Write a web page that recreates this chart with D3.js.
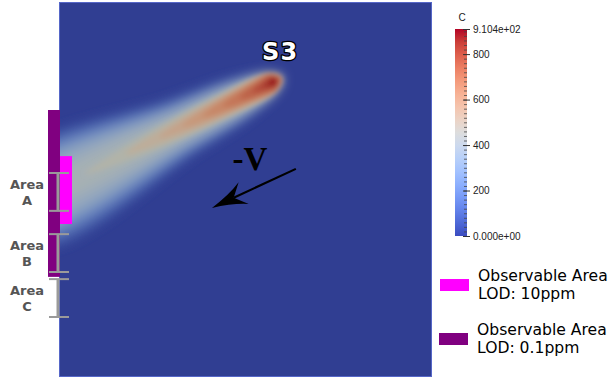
<!DOCTYPE html>
<html>
<head>
<meta charset="utf-8">
<script src="https://cdn.jsdelivr.net/npm/d3@7"></script>
<style>
  body { margin: 0; background: #fff; }
  svg { display: block; }
</style>
</head>
<body>
<svg id="chart"></svg>
<script>
// ParaView "cool to warm" colour map
const coolWarmPos = [0, 0.0625, 0.125, 0.1875, 0.25, 0.3125, 0.375, 0.4375, 0.5,
  0.5625, 0.625, 0.6875, 0.75, 0.8125, 0.875, 0.9375, 1];
const coolWarmColors = ["#3b4cc0", "#4d68d7", "#6282ea", "#779af7", "#8db0fe", "#a3c2ff",
  "#b8d0f9", "#ccd9ee", "#dddddd", "#ecd3c5", "#f5c4ad", "#f7b194", "#f49a7b",
  "#ec7f63", "#de604d", "#cb3e38", "#b40426"];
const cMax = 910.4;
const colorbarTicks = [0, 200, 400, 600, 800, 910.4];

// plume (domain units 0..100 across the panel)
const plumeSource = [57.4, 21.3];
const plumeTail = [0, 49.3];
const plumeLevels = [50, 100, 150, 200, 250, 300, 350, 400, 450, 500, 550, 600, 650, 700, 750, 800, 850, 900];
const plumeReach = [75, 75, 75, 75, 75, 75, 75, 75, 56, 44, 34, 27, 21, 15, 10, 6, 3, 1.2];
const plumeHalfSource = [3.0, 2.9, 2.8, 2.75, 2.7, 2.65, 2.6, 2.55, 2.6, 2.6, 2.55, 2.5, 2.4, 2.25, 2.0, 1.75, 1.3, 0.8];
const plumeHalfMid = [8.2, 7.4, 6.7, 6.1, 5.5, 4.9, 4.2, 3.5, 3.2, 2.9, 2.6, 2.4, 2.2, 2.0, 1.7, 1.35, 1.0, 0.5];
const plumeHalfEnd = [12.5, 11.0, 9.8, 8.7, 7.6, 6.5, 5.0, 2.0, 0.1, 0.1, 0.1, 0.1, 0.1, 0.1, 0.1, 0.1, 0.1, 0.1];

// observation strips (y in domain units)
const stripLod01 = [28.8, 73.3];
const stripLod10 = [41.1, 59.2];
const areaNames = ["A", "B", "C"];
const areaStart = [45.6, 61.9, 73.9];
const areaEnd = [55.7, 72.0, 84.0];

const velocityFrom = [63.5, 44.5];
const velocityTo = [41.0, 54.9];

const legendLabels = ["LOD: 10ppm", "LOD: 0.1ppm"];
const legendColors = ["#ff00ff", "#800080"];

const W = 612, H = 379;
const svg = d3.select("#chart").attr("width", W).attr("height", H);

const x = d3.scaleLinear().domain([0, 100]).range([59, 432]);
const y = d3.scaleLinear().domain([0, 100]).range([2, 377]);

const cmap = d3.scaleLinear()
  .domain(coolWarmPos.map(p => p * cMax))
  .range(coolWarmColors)
  .interpolate(d3.interpolateRgb)
  .clamp(true);
// the rendered view is shaded a bit darker than the colour bar
const shade = c => {
  const r = d3.rgb(c);
  return d3.rgb(r.r * 0.81, r.g * 0.81, r.b * 0.76).formatHex();
};

const defs = svg.append("defs");
defs.append("clipPath").attr("id", "panelClip")
  .append("rect")
  .attr("x", x(0)).attr("y", y(0))
  .attr("width", x(100) - x(0)).attr("height", y(100) - y(0));
[["softWide", 5.5], ["softNarrow", 2.4]].forEach(([id, sd]) => {
  defs.append("filter").attr("id", id)
    .attr("x", "-20%").attr("y", "-20%").attr("width", "140%").attr("height", "140%")
    .append("feGaussianBlur").attr("stdDeviation", sd);
});

// panel
svg.append("rect")
  .attr("x", x(0)).attr("y", y(0))
  .attr("width", x(100) - x(0)).attr("height", y(100) - y(0))
  .attr("fill", shade(cmap(0)));

// plume bands
const sx = x(plumeSource[0]), sy = y(plumeSource[1]);
const tx = x(plumeTail[0]), ty = y(plumeTail[1]);
const len = Math.hypot(tx - sx, ty - sy);
const ux = (tx - sx) / len, uy = (ty - sy) / len;
const nx = -uy, ny = ux;
const k = x(1) - x(0);
const toPx = ([s, h]) => [sx + (ux * s + nx * h) * k, sy + (uy * s + ny * h) * k];

function bandPoints(i) {
  const r = plumeReach[i], h0 = plumeHalfSource[i], hm = plumeHalfMid[i], h1 = plumeHalfEnd[i];
  const side = r > 60
    ? [[0, h0], [r * 0.12, (h0 + hm) / 2 + 0.3], [r * 0.35, hm], [r, h1]]
    : [[0, h0], [r * 0.35, hm], [r * 0.8, hm * 0.55], [r, h1]];
  const top = side.map(([s, h]) => [s, h]);
  const bottom = side.slice().reverse().map(([s, h]) => [s, -h]);
  return [[-h0 * 1.05, 0], ...top, ...bottom].map(toPx);
}

const bandLine = d3.line().curve(d3.curveCatmullRomClosed.alpha(0.5));
const plumeG = svg.append("g").attr("clip-path", "url(#panelClip)");
plumeG.append("g").attr("filter", "url(#softWide)")
  .selectAll("path")
  .data(plumeLevels.filter(v => v <= 400))
  .join("path")
  .attr("d", d => bandLine(bandPoints(plumeLevels.indexOf(d))))
  .attr("fill", d => shade(cmap(d)));
plumeG.append("g").attr("filter", "url(#softNarrow)")
  .selectAll("path")
  .data(plumeLevels.filter(v => v > 400))
  .join("path")
  .attr("d", d => bandLine(bandPoints(plumeLevels.indexOf(d))))
  .attr("fill", d => shade(cmap(d)));

// panel edge
svg.append("rect")
  .attr("x", x(0) + 0.5).attr("y", y(0) + 0.5)
  .attr("width", x(100) - x(0) - 1).attr("height", y(100) - y(0) - 1)
  .attr("fill", "none").attr("stroke", "#5667c8").attr("stroke-width", 1);

// observation strips
svg.append("rect")
  .attr("x", x(0) - 11).attr("width", 12)
  .attr("y", y(stripLod01[0])).attr("height", y(stripLod01[1]) - y(stripLod01[0]))
  .attr("fill", legendColors[1]);
svg.append("rect")
  .attr("x", x(0) + 1).attr("width", 12)
  .attr("y", y(stripLod10[0])).attr("height", y(stripLod10[1]) - y(stripLod10[0]))
  .attr("fill", legendColors[0]);

// area brackets
const areas = svg.append("g").selectAll("g")
  .data(areaNames)
  .join("g");
areas.append("line")
  .attr("x1", x(0) - 1).attr("x2", x(0) - 1)
  .attr("y1", (d, i) => y(areaStart[i])).attr("y2", (d, i) => y(areaEnd[i]))
  .attr("stroke", "#9a9a9a").attr("stroke-width", 3);
areas.selectAll("line.cap")
  .data((d, i) => [areaStart[i], areaEnd[i]])
  .join("line").attr("class", "cap")
  .attr("x1", x(0) - 10).attr("x2", x(0) + 10)
  .attr("y1", d => y(d)).attr("y2", d => y(d))
  .attr("stroke", "#9a9a9a").attr("stroke-width", 2);
const areaText = areas.append("text")
  .attr("text-anchor", "middle")
  .attr("font-family", "DejaVu Sans")
  .attr("font-weight", "bold")
  .attr("font-size", 13)
  .attr("fill", "#555");
areaText.append("tspan")
  .attr("x", 27)
  .attr("y", (d, i) => (y(areaStart[i]) + y(areaEnd[i])) / 2 - 3)
  .text("Area");
areaText.append("tspan")
  .attr("x", 27).attr("dy", 16)
  .text(d => d);

// source label
svg.append("text")
  .attr("x", sx + 7).attr("y", sy - 22)
  .attr("text-anchor", "middle")
  .attr("font-family", "DejaVu Sans")
  .attr("font-weight", "bold")
  .attr("font-size", 24)
  .attr("letter-spacing", 1)
  .attr("fill", "#fff")
  .attr("stroke", "#000").attr("stroke-width", 2.6)
  .attr("paint-order", "stroke")
  .attr("stroke-linejoin", "round")
  .text("S3");

// velocity arrow
const ax0 = x(velocityFrom[0]), ay0 = y(velocityFrom[1]);
const ax1 = x(velocityTo[0]), ay1 = y(velocityTo[1]);
const alen = Math.hypot(ax0 - ax1, ay0 - ay1);
const bx = (ax0 - ax1) / alen, by = (ay0 - ay1) / alen;
const px = -by, py = bx;
const ap = (s, h) => [ax1 + bx * s + px * h, ay1 + by * s + py * h];
svg.append("line")
  .attr("x1", ax0).attr("y1", ay0)
  .attr("x2", ap(24, 0)[0]).attr("y2", ap(24, 0)[1])
  .attr("stroke", "#000").attr("stroke-width", 2.2);
const headPts = [ap(0, 0), ap(35, 12), ap(24, 0), ap(35, -12)];
svg.append("path")
  .attr("d", `M${headPts[0]} Q${ap(21, 4.5)} ${headPts[1]} L${headPts[2]} L${headPts[3]} Q${ap(21, -4.5)} ${headPts[0]} Z`)
  .attr("fill", "#000");
svg.append("text")
  .attr("x", (ax0 + ax1) / 2 - 4).attr("y", ay0 + 1)
  .attr("text-anchor", "middle")
  .attr("font-family", "Liberation Serif")
  .attr("font-weight", "bold")
  .attr("font-size", 33)
  .attr("fill", "#000")
  .text("-V");

// colour bar
const cb = { x: 455, w: 12, top: 29, bottom: 236 };
const cy = d3.scaleLinear().domain([0, cMax]).range([cb.bottom, cb.top]);
const grad = defs.append("linearGradient").attr("id", "cbGrad")
  .attr("x1", 0).attr("y1", 1).attr("x2", 0).attr("y2", 0);
grad.selectAll("stop")
  .data(coolWarmPos)
  .join("stop")
  .attr("offset", d => d)
  .attr("stop-color", (d, i) => coolWarmColors[i]);
svg.append("rect")
  .attr("x", cb.x).attr("y", cb.top)
  .attr("width", cb.w).attr("height", cb.bottom - cb.top)
  .attr("fill", "url(#cbGrad)");

const minor = svg.append("g")
  .attr("transform", `translate(${cb.x + cb.w},0)`)
  .call(d3.axisLeft(cy).tickValues(d3.range(20, cMax, 20)).tickSize(3).tickFormat(""));
minor.select(".domain").remove();
minor.selectAll("line").attr("stroke", "#444").attr("stroke-width", 0.8);

const major = svg.append("g")
  .attr("transform", `translate(${cb.x + cb.w - 4},0)`)
  .call(d3.axisRight(cy).tickValues(colorbarTicks).tickSize(7).tickPadding(3)
    .tickFormat(d => d === 0 ? "0.000e+00" : d === cMax ? "9.104e+02" : d3.format("d")(d)));
major.select(".domain").remove();
major.selectAll("line").attr("stroke", "#333").attr("stroke-width", 1);
major.selectAll("text")
  .attr("font-family", "Liberation Sans")
  .attr("font-size", 10)
  .attr("fill", "#222");

svg.append("text")
  .attr("x", cb.x + 7).attr("y", cb.top - 8)
  .attr("text-anchor", "middle")
  .attr("font-family", "Liberation Sans")
  .attr("font-size", 10)
  .attr("fill", "#222")
  .text("C");

// legend
const legend = svg.append("g").selectAll("g")
  .data(legendLabels)
  .join("g")
  .attr("transform", (d, i) => `translate(${440 - i},${279 + i * 54})`);
legend.append("rect")
  .attr("width", 29).attr("height", 12)
  .attr("fill", (d, i) => legendColors[i]);
const legText = legend.append("text")
  .attr("font-family", "DejaVu Sans")
  .attr("font-size", 15.6)
  .attr("fill", "#000");
legText.append("tspan").attr("x", 38).attr("y", 2).text("Observable Area");
legText.append("tspan").attr("x", 38).attr("dy", 18).text(d => d);
</script>
</body>
</html>
